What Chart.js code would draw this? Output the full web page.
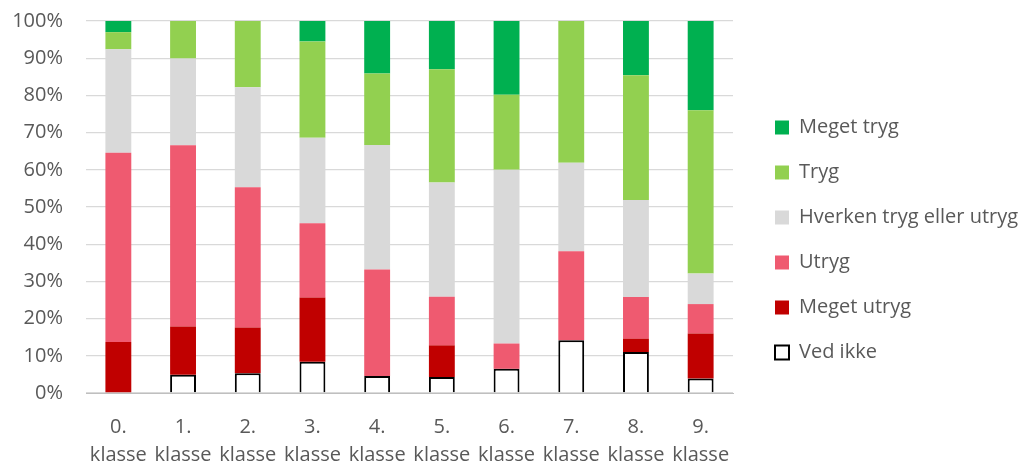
<!DOCTYPE html>
<html lang="da">
<head>
<meta charset="UTF-8">
<title>Tryghed fordelt på klassetrin</title>
<script src="https://cdn.jsdelivr.net/npm/chart.js"></script>
<style>
    body { margin: 0; background: #fff; }
    #wrap { width: 1026px; height: 463px; }
</style>
</head>
<body>
<div id="wrap">
    <canvas id="trygChart" width="1026" height="463"></canvas>
</div>
<script>
    // Klassetrin (to linjer pr. label)
    const klasser = [
        ['0.', 'klasse'], ['1.', 'klasse'], ['2.', 'klasse'], ['3.', 'klasse'], ['4.', 'klasse'],
        ['5.', 'klasse'], ['6.', 'klasse'], ['7.', 'klasse'], ['8.', 'klasse'], ['9.', 'klasse']
    ];

    // Andele i procent, nederste kategori først
    const vedIkke    = [0, 4.9, 5.3, 8.4, 4.6, 4.3, 6.5, 14.2, 11.0, 3.9];
    const megetUtryg = [13.7, 13.0, 12.3, 17.3, 0, 8.5, 0, 0, 3.6, 12.1];
    const utryg      = [50.9, 48.7, 37.7, 19.9, 28.6, 13.1, 6.8, 23.9, 11.2, 7.9];
    const hverken    = [27.8, 23.3, 26.9, 23.0, 33.5, 30.7, 46.7, 23.8, 26.1, 8.2];
    const tryg       = [4.6, 10.1, 17.8, 25.9, 19.2, 30.4, 20.2, 38.1, 33.5, 43.9];
    const megetTryg  = [3.0, 0, 0, 5.5, 14.1, 13.0, 19.8, 0, 14.6, 24.0];

    const yTicks = [0, 10, 20, 30, 40, 50, 60, 70, 80, 90, 100];

    const TEXT = '#595959';
    const FONT = "'Open Sans', 'Liberation Sans', sans-serif";

    // Legenden skubbes lidt ind og op i forhold til Chart.js' standardplacering
    const legendNudge = {
        id: 'legendNudge',
        beforeInit(chart) {
            const fit = chart.legend.fit;
            chart.legend.fit = function () {
                fit.call(this);
                this.width = 293;
            };
        },
        afterLayout(chart) {
            const lg = chart.legend;
            lg.left += 17; lg.right += 17;
            lg.top -= 2; lg.bottom -= 2;
        }
    };

    const ds = (label, data, color, extra = {}) => Object.assign({
        label: label,
        data: data,
        backgroundColor: color,
        borderWidth: 0
    }, extra);

    const ctx = document.getElementById('trygChart').getContext('2d');
    new Chart(ctx, {
        type: 'bar',
        data: {
            labels: klasser,
            datasets: [
                ds('Ved ikke', vedIkke, '#ffffff', { borderColor: '#000000', borderWidth: 2 }),
                ds('Meget utryg', megetUtryg, '#c00000'),
                ds('Utryg', utryg, '#ef5a70'),
                ds('Hverken tryg eller utryg', hverken, '#d9d9d9'),
                ds('Tryg', tryg, '#92d050'),
                ds('Meget tryg', megetTryg, '#00b050')
            ]
        },
        options: {
            responsive: false,
            animation: false,
            barPercentage: 0.4,
            categoryPercentage: 1,
            layout: { padding: { top: 21, left: 0, right: 0, bottom: 0 } },
            plugins: {
                tooltip: { enabled: false },
                legend: {
                    position: 'right',
                    reverse: true,
                    labels: {
                        boxWidth: 14,
                        boxHeight: 14,
                        padding: 25,
                        color: TEXT,
                        font: { family: FONT, size: 20 }
                    }
                }
            },
            scales: {
                x: {
                    stacked: true,
                    grid: { display: false, drawTicks: false },
                    border: { display: true, color: '#bfbfbf', width: 1 },
                    afterFit: s => { s.height = 70; },
                    ticks: {
                        color: TEXT,
                        padding: 20,
                        maxRotation: 0,
                        autoSkip: false,
                        font: { family: FONT, size: 20, lineHeight: 1.4 }
                    }
                },
                y: {
                    stacked: true,
                    min: 0,
                    max: 100,
                    // fast bredde, og tick-padding skal ikke skubbe plotområdet ned
                    afterFit: s => { s.width = 86; s.paddingTop = 0; s.paddingBottom = 0; },
                    afterBuildTicks: s => { s.ticks = yTicks.map(v => ({ value: v })); },
                    grid: { color: '#d9d9d9', lineWidth: 1.3, drawTicks: false },
                    border: { display: false },
                    ticks: {
                        color: TEXT,
                        padding: 23,
                        font: { family: FONT, size: 20 },
                        callback: v => v + '%'
                    }
                }
            }
        },
        plugins: [legendNudge]
    });
</script>
</body>
</html>
